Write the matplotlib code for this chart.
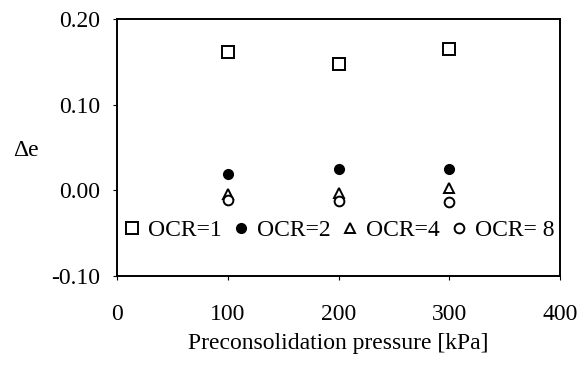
import matplotlib
matplotlib.use("Agg")
import matplotlib.pyplot as plt

pressure = [100, 200, 300]
ocr1 = [0.161, 0.147, 0.165]
ocr2 = [0.019, 0.025, 0.025]
ocr4 = [-0.004, -0.003, 0.003]
ocr8 = [-0.011, -0.013, -0.014]
labels = ["OCR=1", "OCR=2", "OCR=4", "OCR= 8"]

plt.rcParams['font.family'] = ['Liberation Serif', 'DejaVu Serif']

fig = plt.figure(figsize=(5.8, 3.66), dpi=100)
ax = fig.add_axes([117/580, 1-276/366, (560-117)/580, (276-19)/366])

ax.plot(pressure, ocr1, ls='none', marker='s', ms=8, mfc='white', mec='black', mew=1.4, label=labels[0])
ax.plot(pressure, ocr2, ls='none', marker='o', ms=7, mfc='black', mec='black', label=labels[1])
ax.plot(pressure, ocr4, ls='none', marker='^', ms=7, mfc='white', mec='black', mew=1.4, label=labels[2])
ax.plot(pressure, ocr8, ls='none', marker='o', ms=7, mfc='white', mec='black', mew=1.4, label=labels[3])

ax.set_xlim(0, 400)
ax.set_ylim(-0.10, 0.20)
ax.set_xticks([0, 100, 200, 300, 400])
ax.set_yticks([-0.10, 0.00, 0.10, 0.20])
ax.set_yticklabels(["-0.10", "0.00", "0.10", "0.20"])
ax.tick_params(axis='both', labelsize=17, length=3, width=0.8, direction='out')
ax.tick_params(axis='y', pad=9)
ax.tick_params(axis='x', pad=17)
for s in ax.spines.values():
    s.set_linewidth(1.4)

ax.set_xlabel("Preconsolidation pressure [kPa]", fontsize=17, labelpad=6)
fig.text(26/580, 1-150/366, "\u0394e", fontsize=17, ha='center', va='center')

ax.legend(loc='center', bbox_to_anchor=(0.5, (230-276)/(19-276)), ncol=4, frameon=False,
          fontsize=17, handlelength=0.8, handletextpad=0.3, columnspacing=0.4, borderpad=0)

fig.savefig("out.png", dpi=100)
